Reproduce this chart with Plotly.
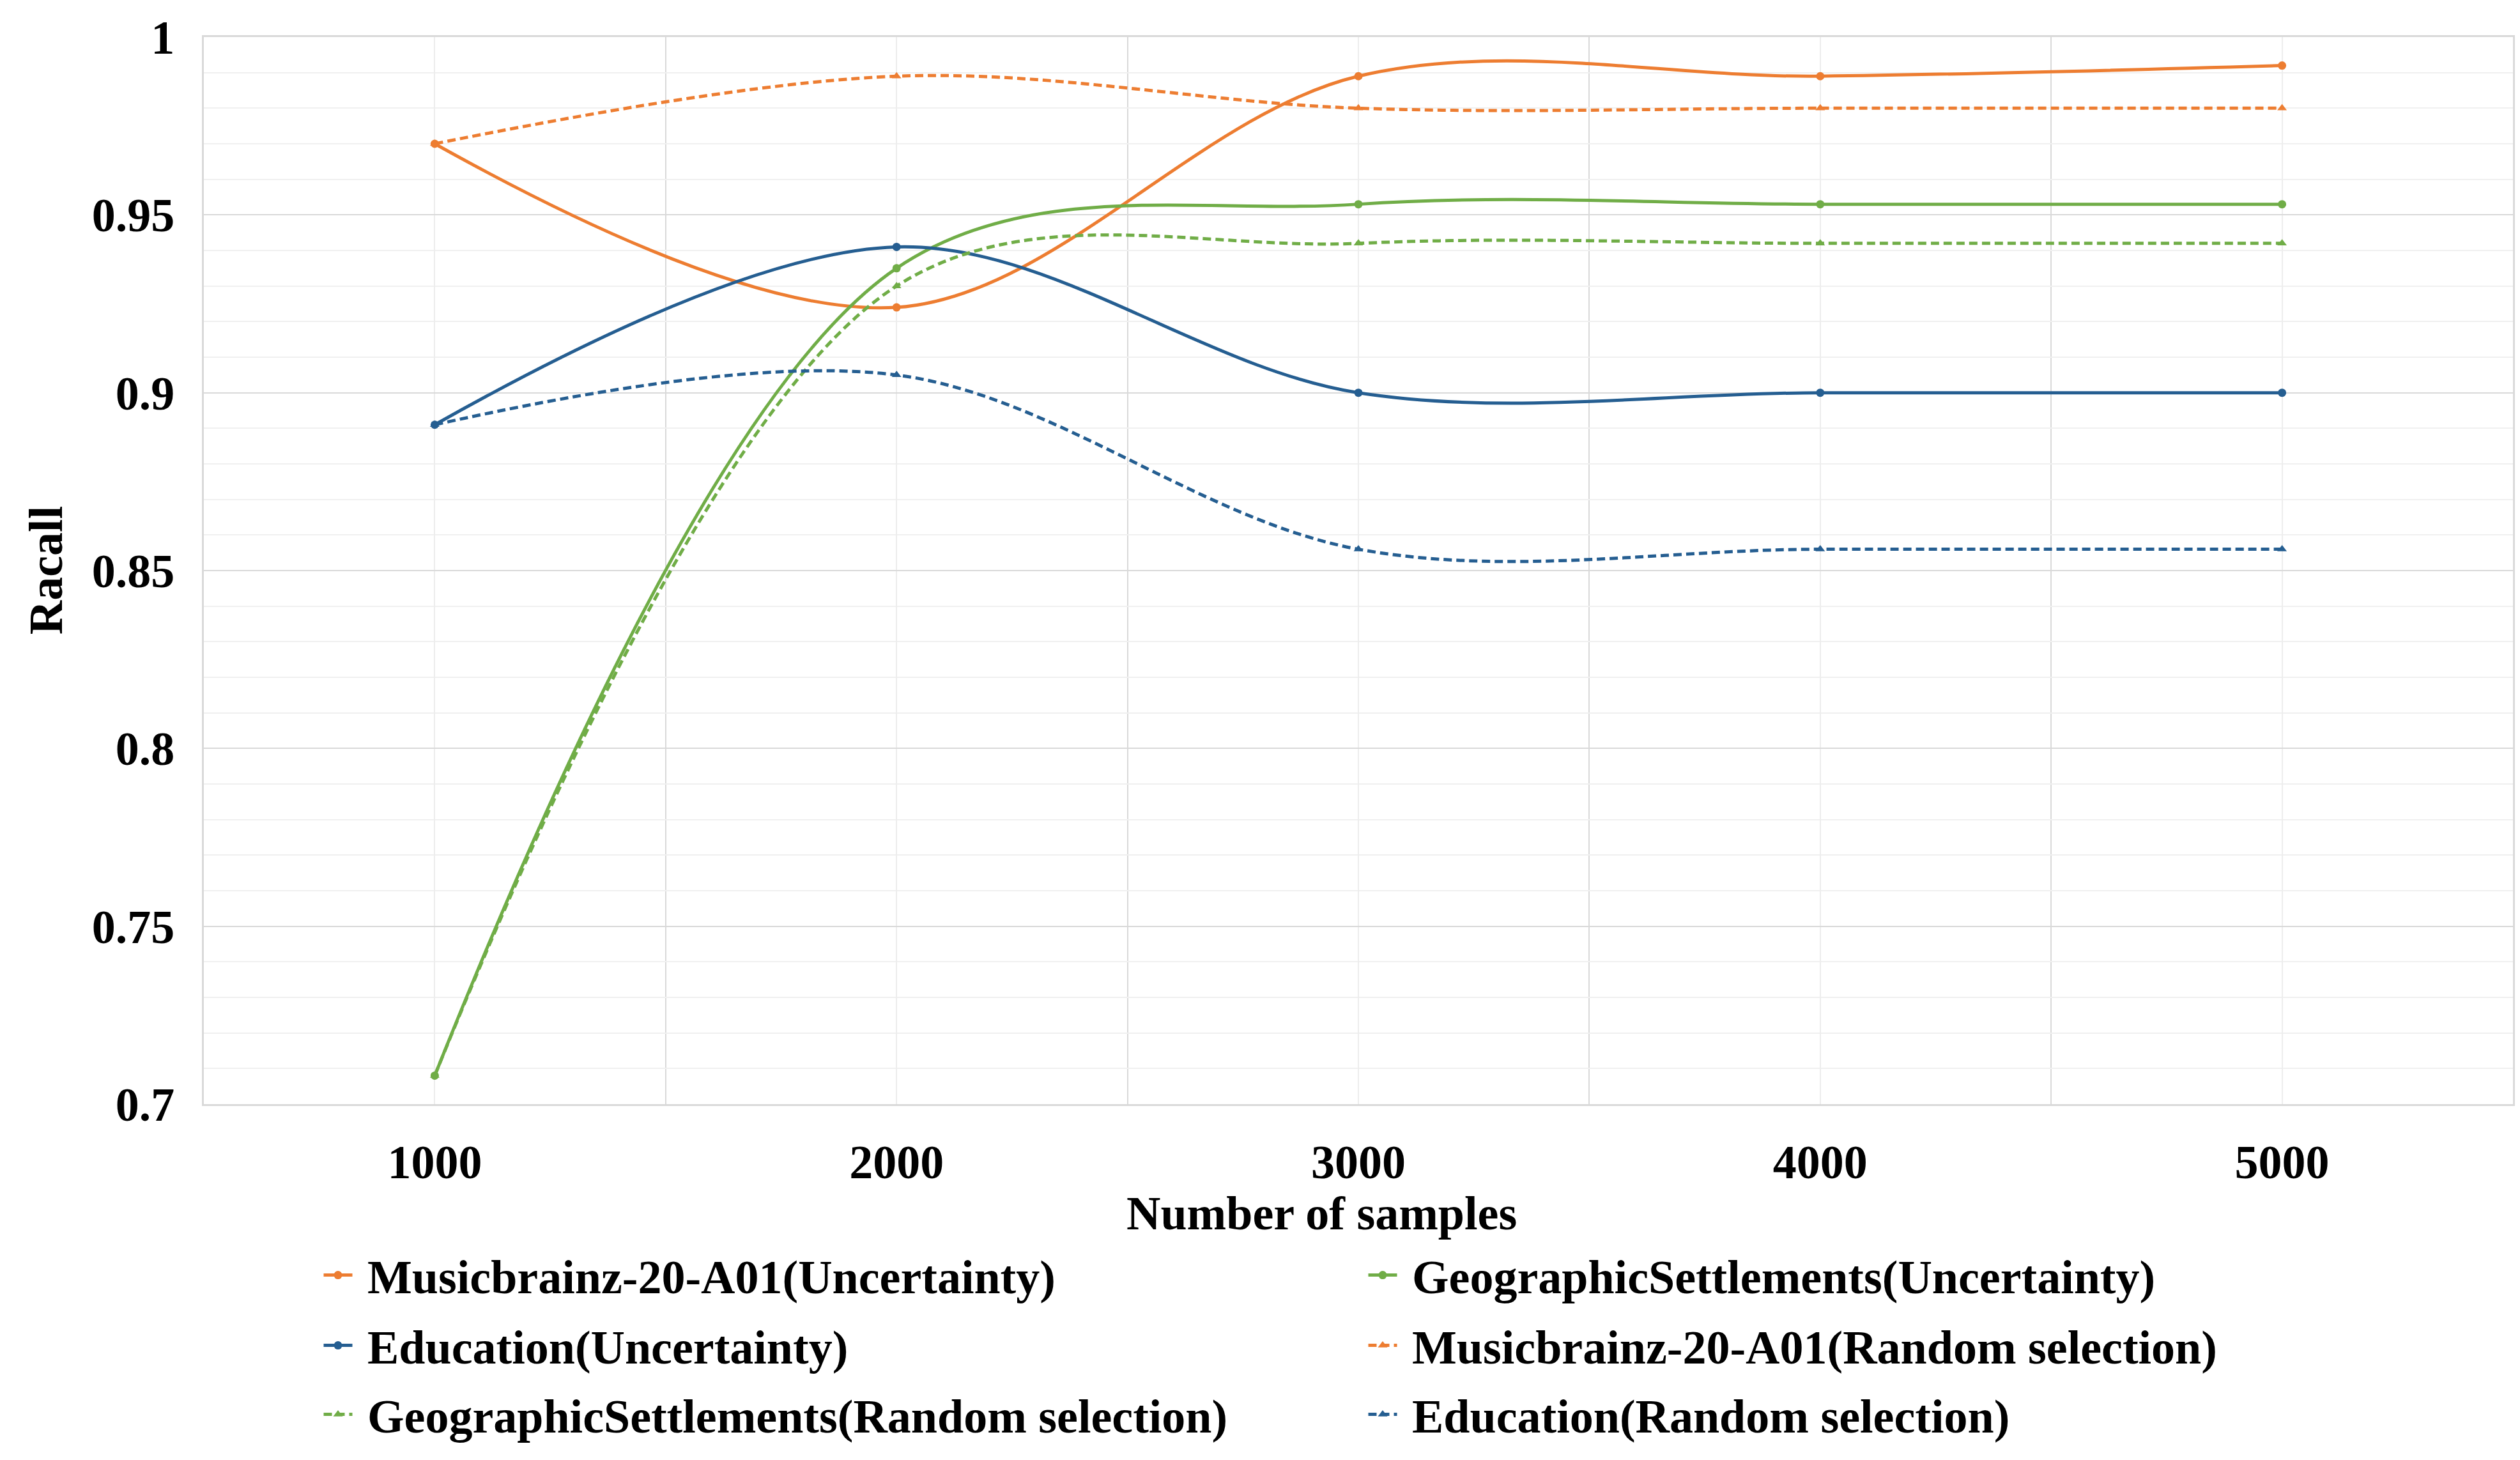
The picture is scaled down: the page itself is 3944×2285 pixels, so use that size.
import plotly.graph_objects as go

samples = [1000, 2000, 3000, 4000, 5000]

music_unc = [0.970, 0.924, 0.989, 0.989, 0.992]
geo_unc = [0.708, 0.935, 0.953, 0.953, 0.953]
edu_unc = [0.891, 0.941, 0.900, 0.900, 0.900]
music_rand = [0.970, 0.989, 0.980, 0.980, 0.980]
geo_rand = [0.708, 0.930, 0.942, 0.942, 0.942]
edu_rand = [0.891, 0.905, 0.856, 0.856, 0.856]

names = [
    "Musicbrainz-20-A01(Uncertainty)",
    "GeographicSettlements(Uncertainty)",
    "Education(Uncertainty)",
    "Musicbrainz-20-A01(Random selection)",
    "GeographicSettlements(Random selection)",
    "Education(Random selection)",
]
series = [music_unc, geo_unc, edu_unc, music_rand, geo_rand, edu_rand]

ORANGE = "#ED7D31"
GREEN = "#70AD47"
BLUE = "#255E91"
colors = [ORANGE, GREEN, BLUE, ORANGE, GREEN, BLUE]
dashes = ["solid", "solid", "solid", "13px,7px", "13px,7px", "13px,7px"]
symbols = ["circle", "circle", "circle", "triangle-up", "triangle-up", "triangle-up"]
legend_ids = ["legend", "legend", "legend2", "legend2", "legend3", "legend3"]

FONT = "Liberation Serif"
FS = 74

fig = go.Figure()
for name, vals, c, d, s, lg in zip(names, series, colors, dashes, symbols, legend_ids):
    fig.add_trace(go.Scatter(
        x=samples, y=vals, name="\u00a0" + name, mode="lines+markers",
        line=dict(color=c, width=5, dash=d, shape="spline", smoothing=1.0),
        marker=dict(color=c, size=13, symbol=s),
        legend=lg,
    ))

# page has an 8px body margin
W, H = 3928, 2269
L, R, T, B = 311, 0, 50, 549
PH = H - T - B  # 1670


def ypaper(py):
    # py: page pixel y of reference
    return (1728 - py) / PH


def legend_cfg(py):
    return dict(
        orientation="h",
        x=0.0505, xanchor="left",
        y=ypaper(py), yanchor="middle",
        entrywidth=1575, entrywidthmode="pixels",
        font=dict(family=FONT, size=FS, color="black", weight="bold"),
        itemwidth=45,
        bgcolor="rgba(0,0,0,0)",
    )


fig.update_layout(
    width=W, height=H,
    margin=dict(l=L, r=R, t=T, b=B),
    paper_bgcolor="white", plot_bgcolor="white",
    font=dict(family=FONT, size=FS, color="black"),
    showlegend=True,
    legend=legend_cfg(1996),
    legend2=legend_cfg(2106),
    legend3=legend_cfg(2214),
    xaxis=dict(
        range=[500, 5500],
        tickmode="array", tickvals=samples, ticktext=[str(v) for v in samples],
        showgrid=True, gridcolor="#EDEDED", gridwidth=2,
        minor=dict(tick0=500, dtick=1000, showgrid=True, gridcolor="#D9D9D9", gridwidth=2),
        showline=True, linecolor="#D9D9D9", linewidth=3, mirror=True,
        zeroline=False, ticks="",
        tickfont=dict(family=FONT, size=FS, color="black", weight="bold"),
        ticklabelstandoff=24,
    ),
    yaxis=dict(
        range=[0.7, 1.0],
        tick0=0.7, dtick=0.05,
        showgrid=True, gridcolor="#D9D9D9", gridwidth=2,
        minor=dict(tick0=0.7, dtick=0.01, showgrid=True, gridcolor="#F0F0F0", gridwidth=2),
        showline=True, linecolor="#D9D9D9", linewidth=3, mirror=True,
        zeroline=False, ticks="",
        tickfont=dict(family=FONT, size=FS, color="black", weight="bold"),
        ticklabelstandoff=28,
    ),
    annotations=[
        dict(text="<b>Number of samples</b>", xref="paper", yref="paper",
             x=(2070 - 8 - L) / (W - L - R), y=ypaper(1899),
             xanchor="center", yanchor="middle", showarrow=False,
             font=dict(family=FONT, size=FS, color="black")),
        dict(text="<b>Racall</b>", xref="paper", yref="paper",
             x=(72 - 8 - L) / (W - L - R), y=ypaper(893),
             xanchor="center", yanchor="middle", showarrow=False,
             textangle=-90,
             font=dict(family=FONT, size=FS, color="black")),
    ],
)

fig.write_html("out.html")
